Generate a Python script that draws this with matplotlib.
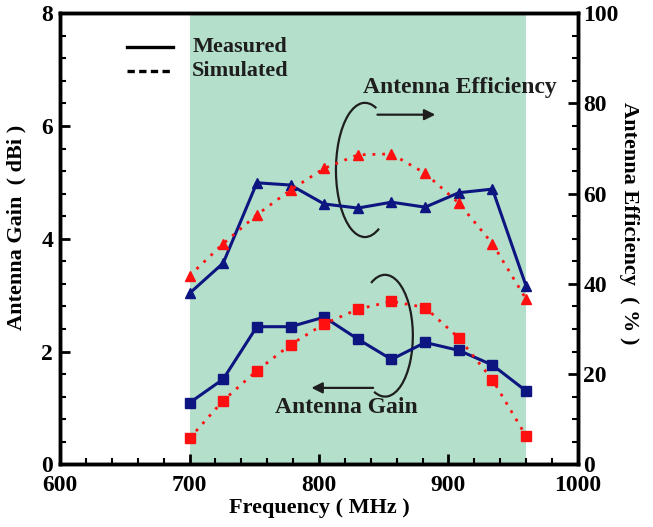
import math
import matplotlib.pyplot as plt
from matplotlib.patches import Arc
from matplotlib.ticker import MultipleLocator

# frequency points (MHz)
freq = [700, 726, 752, 778, 804, 830, 856, 882, 908, 934, 960]

# antenna gain (dBi)
gain_meas = [1.09, 1.51, 2.44, 2.44, 2.61, 2.22, 1.86, 2.16, 2.02, 1.76, 1.30]
gain_sim = [0.46, 1.13, 1.66, 2.12, 2.49, 2.75, 2.89, 2.78, 2.24, 1.50, 0.50]

# antenna efficiency (%)
eff_meas = [37.9, 44.6, 62.4, 61.9, 57.7, 56.8, 58.1, 57.0, 60.2, 61.0, 39.5]
eff_sim = [41.8, 48.9, 55.3, 60.8, 65.6, 68.6, 68.8, 64.5, 57.9, 48.9, 36.6]

band = (700, 960)

plt.rcParams['font.family'] = ['Liberation Serif', 'DejaVu Serif']
plt.rcParams['font.weight'] = 'bold'

blue = '#0c1580'
red = '#ff1010'
ink = '#1e1e1e'


def open_loop(ax, center, w, h, t1, t2):
    # Arc wants angles in data space; convert from the ellipse parameter angle
    a1 = math.degrees(math.atan2(h * math.sin(math.radians(t1)), w * math.cos(math.radians(t1))))
    a2 = math.degrees(math.atan2(h * math.sin(math.radians(t2)), w * math.cos(math.radians(t2))))
    ax.add_patch(Arc(center, w, h, theta1=a1, theta2=a2, color=ink, lw=1.6))


fig = plt.figure(figsize=(6.53, 5.27), dpi=100)
ax = fig.add_axes([0.092, 0.119, 0.793, 0.856])
ax2 = ax.twinx()

ax.axvspan(band[0], band[1], color='#b4dfcb', zorder=0, lw=0)

# gain curves on left axis
ax.plot(freq, gain_meas, '-', color=blue, lw=2.2, marker='s', ms=7, zorder=3)
ax.plot(freq, gain_sim, color=red, lw=2, dashes=(1, 2.5), marker='s', ms=6.5, zorder=3)

# efficiency curves on right axis
ax2.plot(freq, eff_meas, '-', color=blue, lw=2.2, marker='^', ms=7.5, zorder=3)
ax2.plot(freq, eff_sim, color=red, lw=2, dashes=(1, 2.5), marker='^', ms=7, zorder=3)

ax.set_xlim(600, 1000)
ax.set_ylim(0, 8)
ax2.set_ylim(0, 100)

ax.xaxis.set_major_locator(MultipleLocator(100))
ax.xaxis.set_minor_locator(MultipleLocator(20))
ax.yaxis.set_major_locator(MultipleLocator(2))
ax.yaxis.set_minor_locator(MultipleLocator(0.4))
ax2.yaxis.set_major_locator(MultipleLocator(20))
ax2.yaxis.set_minor_locator(MultipleLocator(5))

for a in (ax, ax2):
    for s in a.spines.values():
        s.set_linewidth(2.5)
    a.tick_params(direction='in', width=2, labelsize=17)
    a.tick_params(which='major', length=7)
    a.tick_params(which='minor', direction='in', width=1.5, length=4)
ax.tick_params(top=False, which='both')
ax.tick_params(axis='y', pad=5)
ax.tick_params(axis='x', pad=8)
ax2.tick_params(axis='y', pad=4)

ax.set_xlabel('Frequency ( MHz )', fontsize=16, fontweight='bold', labelpad=1)
ax.set_ylabel('Antenna Gain  ( dBi )', fontsize=16, fontweight='bold')
ax.yaxis.set_label_coords(-0.064, 0.525)
ax2.set_ylabel('Antenna Efficiency  ( % )', fontsize=16, fontweight='bold', rotation=270)
ax2.yaxis.set_label_coords(1.118, 0.535)

# legend drawn by hand
ax.plot([652, 687], [7.40, 7.40], '-', color='black', lw=2.4)
ax.plot([652, 687], [6.98, 6.98], color='black', lw=2.4, dashes=(2.2, 1.3))
ax.text(702, 7.40, 'Measured', fontsize=16, fontweight='bold', va='center', color=ink)
ax.text(702, 6.98, 'Simulated', fontsize=16, fontweight='bold', va='center', color=ink)

# efficiency annotation
ax.text(834, 6.69, 'Antenna Efficiency', fontsize=17, fontweight='bold', va='center', color=ink)
open_loop(ax, (835.5, 5.22), 44.8, 2.38, 67, 299)
ax.annotate('', xy=(892, 6.2), xytext=(843, 6.2),
            arrowprops=dict(arrowstyle='-|>', color=ink, lw=1.6, mutation_scale=16))

# gain annotation
ax.text(766, 1.0, 'Antenna Gain', fontsize=17, fontweight='bold', va='center', color=ink)
open_loop(ax, (851, 2.28), 43, 2.16, -113, 120)
ax.annotate('', xy=(792, 1.355), xytext=(844, 1.355),
            arrowprops=dict(arrowstyle='-|>', color=ink, lw=1.6, mutation_scale=16))

fig.savefig('out.png', dpi=100)
